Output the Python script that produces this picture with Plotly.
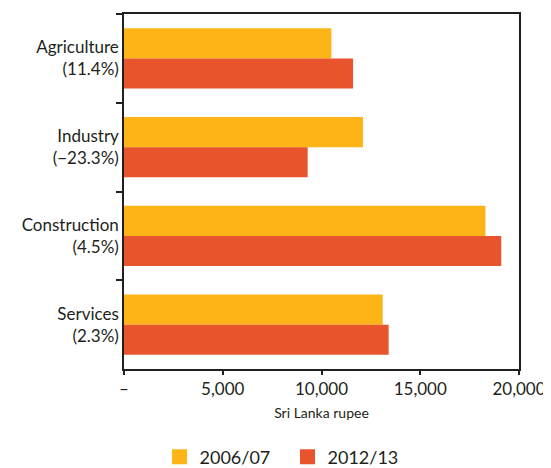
import plotly.graph_objects as go

categories = ["Agriculture<br>(11.4%)", "Industry<br>(−23.3%)", "Construction<br>(4.5%)", "Services<br>(2.3%)"]
series_names = ["2006/07", "2012/13"]
values_2006 = [10500, 12100, 18300, 13100]
values_2012 = [11600, 9300, 19100, 13400]
colors = ["#FDB416", "#E8542C"]
x_tickvals = [0, 5000, 10000, 15000, 20000]
x_ticktext = ["–", "5,000", "10,000", "15,000", "20,000"]

FONT = "Lato"
TXT = "#231F20"

fig = go.Figure()
for name, vals, col in zip(series_names, [values_2006, values_2012], colors):
    fig.add_trace(go.Bar(y=categories, x=vals, orientation="h", name=name,
                         marker=dict(color=col, line=dict(width=0)), showlegend=False))
    fig.add_trace(go.Scatter(x=[None], y=[None], mode="markers", name=name,
                             marker=dict(symbol="square", size=15, color=col)))

fig.update_layout(
    width=543, height=460,
    margin=dict(l=116, r=32, t=6, b=99, autoexpand=False),
    paper_bgcolor="white", plot_bgcolor="white",
    barmode="group", bargap=0.32, bargroupgap=0,
    font=dict(family=FONT, color=TXT, size=17),
    legend=dict(orientation="h", x=0.414, y=-0.248, xanchor="center", yanchor="middle",
                font=dict(size=18, family=FONT, color=TXT), itemwidth=30,
                entrywidth=83, entrywidthmode="pixels"),
    xaxis=dict(range=[0, 20000], tickvals=x_tickvals, ticktext=x_ticktext,
               ticks="outside", ticklen=4, tickwidth=1.5, tickcolor="#231F20",
               showline=True, linecolor="#231F20", linewidth=1.5, mirror=True,
               showgrid=False, zeroline=False, automargin=False,
               tickfont=dict(size=17, family=FONT, color=TXT),
               title=dict(text="Sri Lanka rupee", font=dict(size=14, family=FONT, color=TXT), standoff=10)),
    yaxis=dict(type="category", categoryarray=categories, autorange="reversed",
               tickson="boundaries", ticks="outside", ticklen=6, tickwidth=1.5, tickcolor="#231F20",
               showline=True, linecolor="#231F20", linewidth=1.5, mirror=True,
               showgrid=False, zeroline=False, automargin=False,
               tickfont=dict(size=17, family=FONT, color=TXT)),
)

fig.write_html("out.html")
